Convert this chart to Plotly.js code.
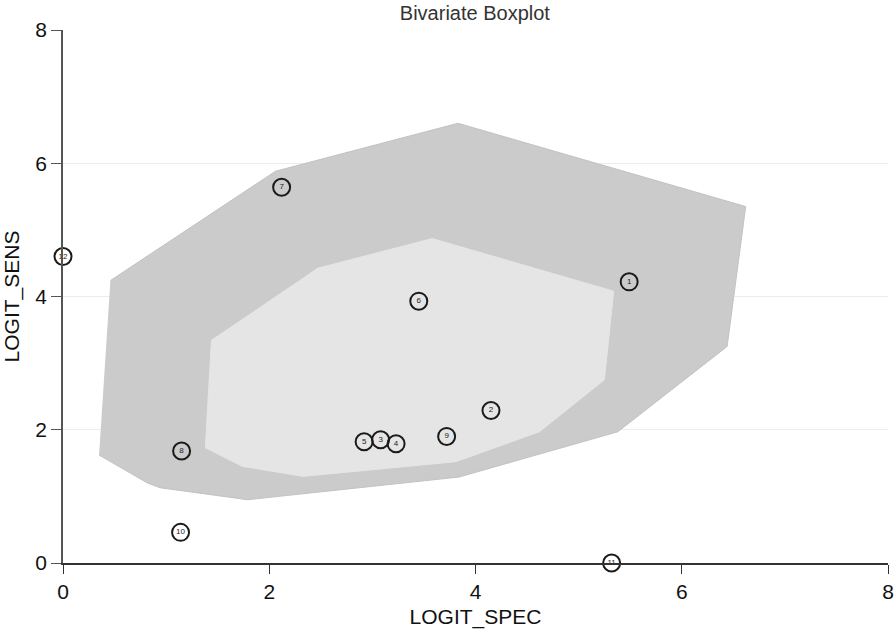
<!DOCTYPE html>
<html>
<head>
<meta charset="utf-8">
<script src="https://cdn.plot.ly/plotly-3.0.1.min.js"></script>
</head>
<body style="margin:0">
<div id="plotArea" style="width:896px;height:629px"></div>
<script>
// study points
var pointId = ["1", "2", "3", "4", "5", "6", "7", "8", "9", "10", "11", "12"];
var logitSpec = [5.49, 4.15, 3.08, 3.23, 2.92, 3.45, 2.12, 1.15, 3.72, 1.14, 5.32, 0];
var logitSens = [4.22, 2.29, 1.85, 1.79, 1.82, 3.93, 5.64, 1.68, 1.90, 0.46, 0.00, 4.60];

// fence (outer) and hinge (inner) polygons
var outerX = [0.46, 2.06, 3.83, 6.62, 6.44, 5.38, 3.84, 1.79, 0.94, 0.82, 0.35];
var outerY = [4.24, 5.88, 6.60, 5.35, 3.25, 1.97, 1.29, 0.95, 1.13, 1.20, 1.62];
var innerX = [2.46, 3.58, 5.34, 5.25, 4.62, 3.81, 2.33, 1.74, 1.38, 1.44];
var innerY = [4.42, 4.87, 4.08, 2.75, 1.97, 1.52, 1.30, 1.45, 1.73, 3.35];

var axisTicks = [0, 2, 4, 6, 8];

var traces = [
  {
    x: outerX, y: outerY, type: "scatter", mode: "lines", fill: "toself",
    fillcolor: "#cbcbcb", line: { color: "#c2c2c2", width: 1 }
  },
  {
    x: innerX, y: innerY, type: "scatter", mode: "lines", fill: "toself",
    fillcolor: "#e5e5e5", line: { color: "#e5e5e5", width: 1 }
  },
  {
    x: logitSpec, y: logitSens, text: pointId, type: "scatter", mode: "markers+text",
    textposition: "middle center", textfont: { size: 8, color: "#222" },
    marker: { size: 17, color: "rgba(255,255,255,0)", line: { color: "#1a1a1a", width: 2 } },
    cliponaxis: false
  }
];

var plotLayout = {
  width: 896,
  height: 629,
  margin: { l: 63, r: 8, t: 30, b: 66 },
  showlegend: false,
  paper_bgcolor: "#fff",
  plot_bgcolor: "#fff",
  font: { family: "Liberation Sans, Arial, sans-serif", color: "#111" },
  title: { text: "Bivariate Boxplot", font: { size: 20, color: "#333" }, x: 0.53, xanchor: "center", y: 0.979, yanchor: "middle" },
  xaxis: {
    range: [0, 8], tickvals: axisTicks, ticks: "outside", ticklen: 9, tickcolor: "#333",
    showline: true, linecolor: "#333", linewidth: 1.5, showgrid: false, zeroline: false,
    tickfont: { size: 21, color: "#111" },
    title: { text: "LOGIT_SPEC", font: { size: 21, color: "#111" } }
  },
  yaxis: {
    range: [0, 8], tickvals: axisTicks, ticks: "outside", ticklen: 10, tickcolor: "#555",
    showline: true, linecolor: "#555", linewidth: 1.5, showgrid: true, gridcolor: "#ececec",
    gridwidth: 1, zeroline: false, tickfont: { size: 21, color: "#111" },
    title: { text: "LOGIT_SENS", font: { size: 21, color: "#111" } }
  }
};

Plotly.newPlot("plotArea", traces, plotLayout, { displayModeBar: false });
</script>
</body>
</html>
